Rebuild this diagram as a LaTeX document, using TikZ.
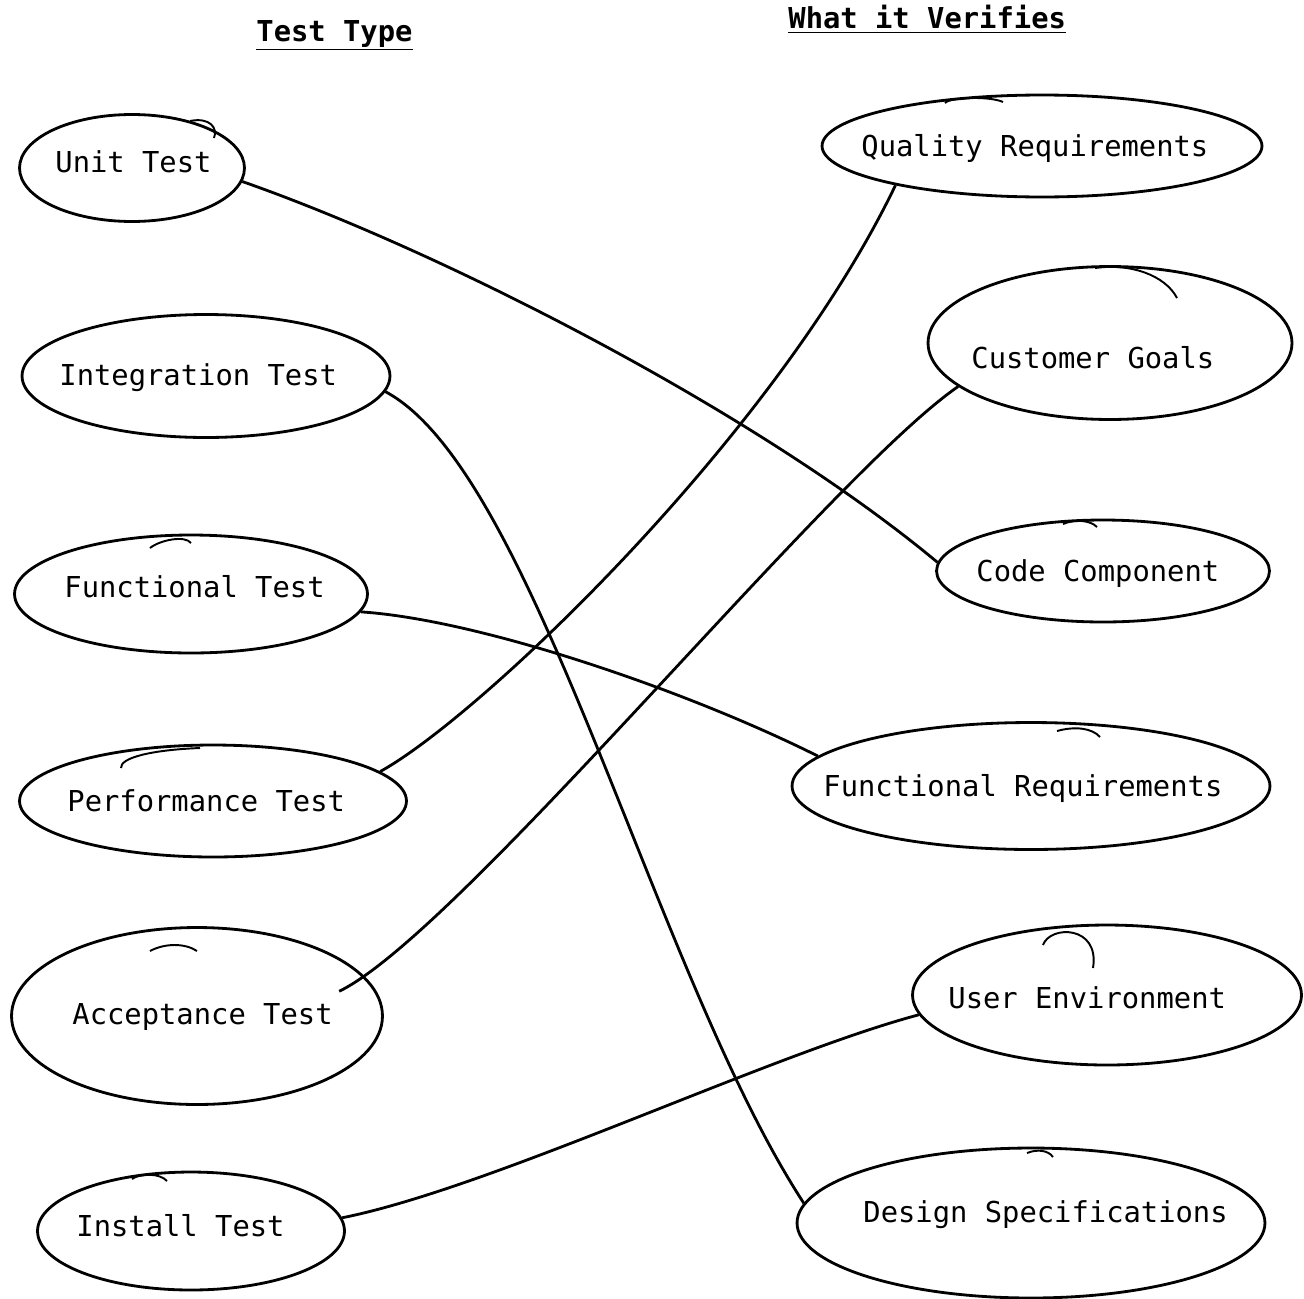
\documentclass[tikz,border=0pt]{standalone}
\usepackage{fontspec}
\setmonofont{DejaVu Sans Mono}
\usetikzlibrary{shapes,calc}

\begin{document}
\begin{tikzpicture}[x=0.02cm, y=-0.02cm, line width=1.6pt,
    bubble/.style={draw, ellipse, inner sep=0pt},
    txt/.style={anchor=base west, inner sep=0pt, font=\ttfamily\fontsize{16.4}{20}\selectfont},
    hdr/.style={anchor=base west, inner sep=0pt, font=\ttfamily\bfseries\fontsize{16.4}{20}\selectfont},
    pen/.style={line width=1.1pt}]
    \useasboundingbox (0,0) rectangle (1304,1298);

    % headers
    \node[hdr] (hdrtype) at (255,41) {\underline{Test Type}};
    \node[hdr] (hdrverif) at (787,29) {\underline{What it Verifies}};

    % test types
    \node[bubble, minimum width=4.5cm, minimum height=2.14cm] (unit) at (132,168) {};
    \node[bubble, minimum width=7.36cm, minimum height=2.46cm] (integ) at (206,376) {};
    \node[bubble, minimum width=7.06cm, minimum height=2.36cm] (func) at (191,594) {};
    \node[bubble, minimum width=7.74cm, minimum height=2.24cm] (perf) at (213,801) {};
    \node[bubble, minimum width=7.42cm, minimum height=3.54cm] (acc) at (197,1016) {};
    \node[bubble, minimum width=6.14cm, minimum height=2.36cm] (inst) at (191,1231) {};
    \node[txt] (unit-t) at (54,172) {Unit Test};
    \node[txt] (integ-t) at (58,385) {Integration Test};
    \node[txt] (func-t) at (63,597) {Functional Test};
    \node[txt] (perf-t) at (66,811) {Performance Test};
    \node[txt] (acc-t) at (71,1024) {Acceptance Test};
    \node[txt] (inst-t) at (75,1236) {Install Test};

    % what it verifies
    \node[bubble, minimum width=8.8cm, minimum height=2.04cm] (quality) at (1042,146) {};
    \node[bubble, minimum width=7.28cm, minimum height=3.06cm] (cust) at (1110,343) {};
    \node[bubble, minimum width=6.66cm, minimum height=2.04cm] (code) at (1103,571) {};
    \node[bubble, minimum width=9.56cm, minimum height=2.54cm] (funcreq) at (1031,786) {};
    \node[bubble, minimum width=7.78cm, minimum height=2.8cm] (user) at (1107,995) {};
    \node[bubble, minimum width=9.36cm, minimum height=3.0cm] (design) at (1031,1223) {};
    \node[txt] (quality-t) at (860,156) {Quality Requirements};
    \node[txt] (cust-t) at (970,368) {Customer Goals};
    \node[txt] (code-t) at (975,581) {Code Component};
    \node[txt] (funcreq-t) at (822,796) {Functional Requirements};
    \node[txt] (user-t) at (947,1008) {User Environment};
    \node[txt] (design-t) at (862,1222) {Design Specifications};

    % pen overlaps
    \draw[pen] (190,121) .. controls (210,117) and (218,128) .. (214,138);
    \draw[pen] (150,548) .. controls (160,540) and (185,535) .. (191,543);
    \draw[pen] (121,768) .. controls (120,758) and (150,750) .. (200,748);
    \draw[pen] (150,951) .. controls (165,943) and (185,943) .. (197,951);
    \draw[pen] (132,1179) .. controls (140,1173) and (160,1173) .. (167,1181);
    \draw[pen] (945,103) .. controls (950,97) and (990,96) .. (1003,102);
    \draw[pen] (1095,268) .. controls (1130,263) and (1165,275) .. (1177,298);
    \draw[pen] (1063,524) .. controls (1075,519) and (1090,520) .. (1097,527);
    \draw[pen] (1057,731) .. controls (1075,726) and (1092,728) .. (1100,737);
    \draw[pen] (1043,945) .. controls (1050,925) and (1100,925) .. (1093,968);
    \draw[pen] (1027,1153) .. controls (1037,1149) and (1048,1150) .. (1053,1157);

    % connectors
    \draw (unit.-7) .. controls ($(unit.-7)+(200,70)$) and ($(code.177)+(-180,-150)$) .. (code.177);
    \draw (integ.-5) .. controls ($(integ.-5)+(150,80)$) and ($(design.175)+(-150,-230)$) .. (design.175);
    \draw (func.-6) .. controls ($(func.-6)+(120,8)$) and ($(funcreq.172)+(-130,-65)$) .. (funcreq.172);
    \draw (perf.10) .. controls ($(perf.10)+(100,-55)$) and ($(quality.-165)+(-120,250)$) .. (quality.-165);
    \draw ([shift={(-21,19)}]acc.15) .. controls ($(acc.15)+(100,-40)$) and ($(cust.-164)+(-130,90)$) .. (cust.-164);
    \draw (inst.5) .. controls ($(inst.5)+(150,-30)$) and ($(user.186)+(-150,40)$) .. (user.186);
\end{tikzpicture}
\end{document}
